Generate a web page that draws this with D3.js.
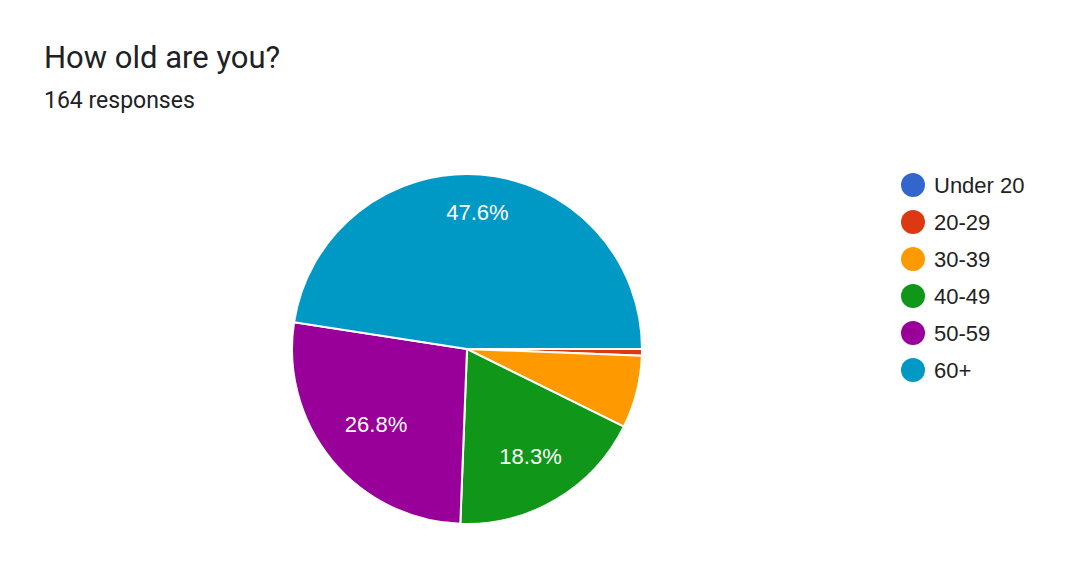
<!DOCTYPE html>
<html>
<head>
<meta charset="utf-8">
<script src="https://cdn.jsdelivr.net/npm/d3@7"></script>
<style>
  body { margin: 0; background: #fff; font-family: Roboto, "Noto Sans", sans-serif; }
  .arial { font-family: "Liberation Sans", Arial, sans-serif; }
</style>
</head>
<body>
<div id="chart"></div>
<script>
const svgw = 1075
const svgh = 578

// data (164 responses)
const categories = ['Under 20', '20-29', '30-39', '40-49', '50-59', '60+']
const counts = [0, 1, 11, 30, 44, 78]
const colors = ['#3366cc', '#dc3912', '#ff9900', '#109618', '#990099', '#0099c6']
const total = d3.sum(counts)

const svg = d3.select('#chart')
    .append('svg')
    .attr('width', svgw)
    .attr('height', svgh)

svg.append('text')
    .attr('x', 44)
    .attr('y', 68)
    .attr('font-size', 31)
    .attr('fill', '#202124')
    .text('How old are you?')

svg.append('text')
    .attr('x', 44)
    .attr('y', 108)
    .attr('font-size', 23)
    .attr('fill', '#202124')
    .text(`${total} responses`)

const cx = 467
const cy = 349
const r = 175

const color = d3.scaleOrdinal()
    .domain(categories)
    .range(colors)

const pie = d3.pie()
    .sort(null)
    .startAngle(Math.PI / 2)
    .endAngle(Math.PI / 2 + 2 * Math.PI)
    .value(d => d.value)

const data = categories.map((c, i) => ({ name: c, value: counts[i] }))
const arcs = pie(data)

const arc = d3.arc().innerRadius(0).outerRadius(r)

const g = svg.append('g')
    .attr('transform', `translate(${cx},${cy})`)

g.selectAll('path')
    .data(arcs.filter(d => d.data.value > 0))
    .enter()
    .append('path')
    .attr('d', arc)
    .attr('fill', d => color(d.data.name))
    .attr('stroke', '#fff')
    .attr('stroke-width', 2)

// only slices big enough get a percentage
// label box is pushed out so its outer edge sits at a fixed radius
const labelOuter = r * 0.84
const pct = g.selectAll('text.pct')
    .data(arcs.filter(d => d.data.value / total > 0.1))
    .enter()
    .append('text')
    .attr('class', 'pct arial')
    .attr('text-anchor', 'middle')
    .attr('dy', '0.35em')
    .attr('font-size', 22)
    .attr('fill', '#fff')
    .text(d => (d.data.value / total * 100).toFixed(1) + '%')

pct.attr('transform', function(d) {
    const a = (d.startAngle + d.endAngle) / 2
    const sx = Math.sin(a)
    const sy = -Math.cos(a)
    const hw = this.getComputedTextLength() / 2
    const hh = 22 * 0.716 / 2
    const dist = labelOuter - (Math.abs(sx) * hw + Math.abs(sy) * hh)
    return `translate(${sx * dist},${sy * dist})`
})

const yLegend = d3.scalePoint()
    .domain(categories)
    .range([185, 370])

const legend = svg.append('g')

legend.selectAll('circle')
    .data(categories)
    .enter()
    .append('circle')
    .attr('cx', 913)
    .attr('cy', d => yLegend(d))
    .attr('r', 12)
    .attr('fill', d => color(d))

legend.selectAll('text')
    .data(categories)
    .enter()
    .append('text')
    .attr('class', 'arial')
    .attr('x', 934)
    .attr('y', d => yLegend(d))
    .attr('dy', '0.35em')
    .attr('font-size', 22)
    .attr('fill', '#222')
    .text(d => d)
</script>
</body>
</html>
